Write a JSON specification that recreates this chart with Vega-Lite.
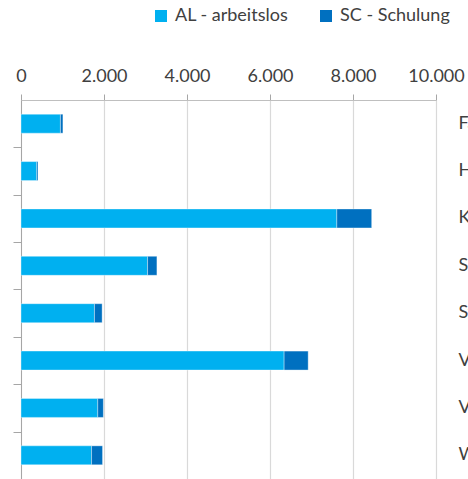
{
  "$schema": "https://vega.github.io/schema/vega-lite/v6.json",
  "autosize": "none",
  "width": 415,
  "height": 379,
  "padding": {"left": 21, "top": 100, "right": 32, "bottom": 0},
  "config": {
    "view": {"stroke": null},
    "font": "Lato",
    "axis": {"labelFont": "Lato", "labelColor": "#404040"},
    "legend": {"labelFont": "Lato"}
  },
  "data": {
    "values": [
      {"branche": "Fahrzeugbau", "art": "AL - arbeitslos", "wert": 950, "ord": 1},
      {"branche": "Fahrzeugbau", "art": "SC - Schulung", "wert": 60, "ord": 2},
      {"branche": "Handel", "art": "AL - arbeitslos", "wert": 380, "ord": 1},
      {"branche": "Handel", "art": "SC - Schulung", "wert": 30, "ord": 2},
      {"branche": "Kunststoff", "art": "AL - arbeitslos", "wert": 7610, "ord": 1},
      {"branche": "Kunststoff", "art": "SC - Schulung", "wert": 840, "ord": 2},
      {"branche": "Sonstige", "art": "AL - arbeitslos", "wert": 3050, "ord": 1},
      {"branche": "Sonstige", "art": "SC - Schulung", "wert": 225, "ord": 2},
      {"branche": "Stahl", "art": "AL - arbeitslos", "wert": 1770, "ord": 1},
      {"branche": "Stahl", "art": "SC - Schulung", "wert": 185, "ord": 2},
      {"branche": "Verkehr", "art": "AL - arbeitslos", "wert": 6340, "ord": 1},
      {"branche": "Verkehr", "art": "SC - Schulung", "wert": 580, "ord": 2},
      {"branche": "Versicherung", "art": "AL - arbeitslos", "wert": 1850, "ord": 1},
      {"branche": "Versicherung", "art": "SC - Schulung", "wert": 135, "ord": 2},
      {"branche": "Werkzeugbau", "art": "AL - arbeitslos", "wert": 1700, "ord": 1},
      {"branche": "Werkzeugbau", "art": "SC - Schulung", "wert": 265, "ord": 2}
    ]
  },
  "encoding": {
    "y": {
      "field": "branche",
      "type": "nominal",
      "sort": null,
      "scale": {"paddingInner": 0.6, "paddingOuter": 0.3}
    },
    "x": {
      "field": "wert",
      "type": "quantitative",
      "aggregate": "sum",
      "stack": "zero",
      "scale": {"domain": [0, 10000], "nice": false},
      "axis": {
        "orient": "top",
        "title": null,
        "values": [0, 2000, 4000, 6000, 8000, 10000],
        "labelExpr": "replace(format(datum.value, ','), ',', '.')",
        "labelFlush": false,
        "labelOverlap": false,
        "labelFontSize": 18,
        "labelPadding": 9,
        "tickSize": 6,
        "tickColor": "#A6A6A6",
        "domainColor": "#BFBFBF",
        "grid": true,
        "gridColor": "#D9D9D9",
        "gridWidth": 1.2
      }
    }
  },
  "layer": [
    {
      "mark": {"type": "bar", "stroke": "#ffffff", "strokeWidth": 0.6, "strokeOpacity": 0.6},
      "encoding": {
        "color": {
          "field": "art",
          "type": "nominal",
          "scale": {"domain": ["AL - arbeitslos", "SC - Schulung"], "range": ["#00B0F0", "#0070C0"]},
          "legend": {
            "title": null,
            "orient": "none",
            "direction": "horizontal",
            "legendX": 131,
            "legendY": -93,
            "symbolType": "square",
            "symbolSize": 144,
            "symbolStrokeWidth": 0,
            "labelFontSize": 18,
            "labelColor": "#404040",
            "labelOffset": 5,
            "columnPadding": 28
          }
        },
        "order": {"field": "ord", "type": "quantitative"},
        "y": {
          "field": "branche",
          "type": "nominal",
          "sort": null,
          "axis": {
            "orient": "left",
            "title": null,
            "labels": false,
            "bandPosition": 1,
            "tickOffset": 14.2,
            "tickSize": 8,
            "tickColor": "#A6A6A6",
            "domainColor": "#A6A6A6",
            "grid": false
          }
        }
      }
    },
    {
      "mark": {"type": "bar", "opacity": 0},
      "encoding": {
        "y": {
          "field": "branche",
          "type": "nominal",
          "sort": null,
          "axis": {
            "orient": "right",
            "title": null,
            "domain": false,
            "ticks": false,
            "labelPadding": 22,
            "labelFontSize": 18,
            "labelAlign": "left",
            "grid": false
          }
        }
      }
    }
  ],
  "resolve": {"axis": {"y": "independent"}}
}
